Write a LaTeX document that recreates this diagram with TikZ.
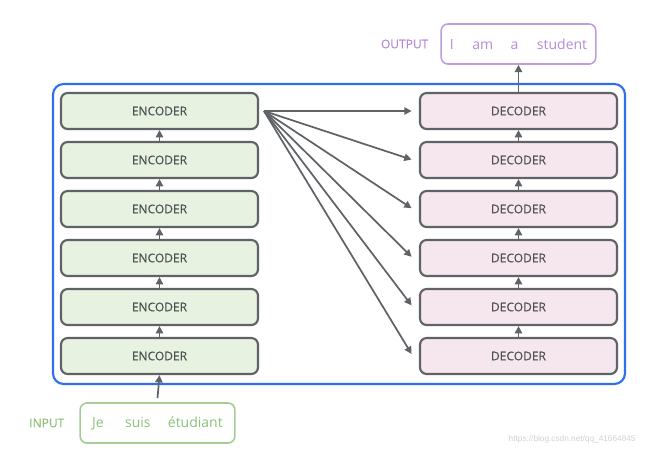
\documentclass[tikz,border=0pt]{standalone}
\usepackage{fontspec}
\setmainfont{Open Sans}
\newfontfamily\boxfont[FakeBold=0.35]{Open Sans}
\newfontfamily\markfont{Liberation Sans}
\usetikzlibrary{arrows.meta}
\definecolor{edge}{HTML}{5F6368}
\definecolor{encfill}{HTML}{E8F2E0}
\definecolor{decfill}{HTML}{F6E7EE}
\definecolor{frameblue}{HTML}{2F6FEB}
\definecolor{ingreen}{HTML}{8CC17A}
\definecolor{outpurple}{HTML}{B48CD8}
\tikzset{
  layer/.style={draw=edge, line width=1.6pt, rounded corners=5pt,
    minimum width=147.75pt, minimum height=27pt, inner sep=0pt,
    font=\boxfont\fontsize{9}{11}\selectfont, text=edge!80!black},
  enc/.style={layer, fill=encfill},
  dec/.style={layer, fill=decfill},
  flow/.style={draw=edge, line width=1.3pt, -{Triangle[length=5.5pt,width=5.5pt]}},
  seqbox/.style={draw, line width=1.2pt, rounded corners=5pt,
    minimum width=116pt, minimum height=30pt, inner sep=0pt},
  tag/.style={font=\boxfont\fontsize{9}{11}\selectfont, anchor=east}
}
\begin{document}
\begin{tikzpicture}[x=0.75pt, y=-0.75pt]
  \useasboundingbox (0,0) rectangle (662,469);
  % outer frame of the encoder-decoder stack
  \draw[frameblue, line width=1.6pt, rounded corners=8pt] (53,84) rectangle (625,384);
  % encoder and decoder stacks
  \foreach \i/\y in {1/111,2/160,3/209,4/258,5/307,6/356}{
    \node[enc] (e\i) at (159.5,\y) {ENCODER};
    \node[dec] (d\i) at (518.5,\y) {DECODER};
  }
  % upward flow inside each stack
  \foreach \i/\j in {2/1,3/2,4/3,5/4,6/5}{
    \draw[flow] (e\i.north) -- (e\j.south);
    \draw[flow] (d\i.north) -- (d\j.south);
  }
  % top encoder output feeds every decoder
  \coordinate (src) at (264,111);
  \foreach \i in {1,...,6}{
    \draw[flow] (src) -- ([xshift=-5.5pt,yshift=1.5pt*(\i-1)/5]d\i.west);
  }
  % input sequence
  \node[seqbox, draw=ingreen!80, text=ingreen] (in) at (157.5,423)
    {\fontsize{10.5}{12}\selectfont Je\hspace{16pt}suis\hspace{13pt}étudiant};
  \node[tag, text=ingreen] (inlabel) at (69,423) {INPUT};
  \draw[flow] ([yshift=3pt]in.north) -- (e6.south);
  % output sequence
  \node[seqbox, draw=outpurple!85, text=outpurple] (out) at (518.5,44)
    {\fontsize{10.5}{12}\selectfont I\hspace{14pt}am\hspace{13pt}a\hspace{14pt}student};
  \node[tag, text=outpurple] (outlabel) at (433,44) {OUTPUT};
  \draw[flow] (d1.north) -- (out.south);
  % source link
  \node[font=\markfont\fontsize{6.2}{7}\selectfont, text=black!18, anchor=west] (url) at (504,439)
    {https://blog.csdn.net/qq\_41664845};
\end{tikzpicture}
\end{document}
